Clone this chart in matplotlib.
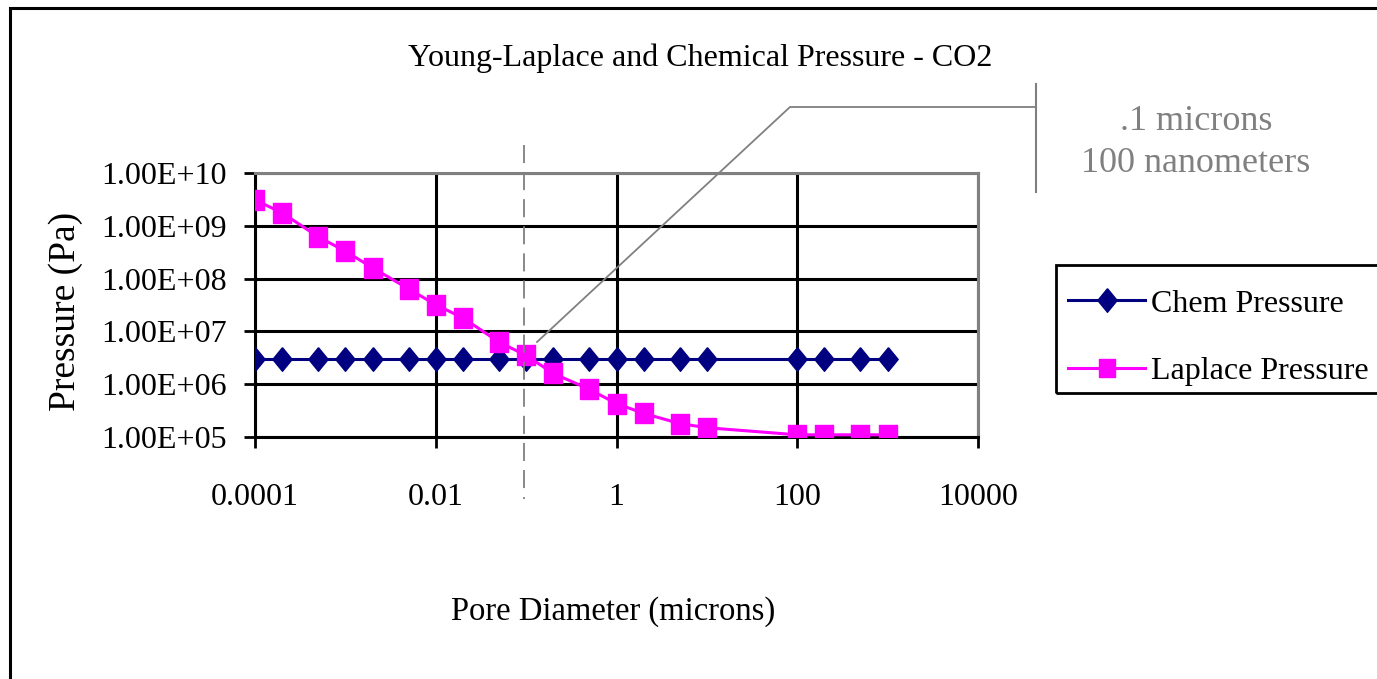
import matplotlib
matplotlib.use("Agg")
import matplotlib.pyplot as plt
from matplotlib.patches import Rectangle
from matplotlib.lines import Line2D
import numpy as np

# ---- data ----
diameter_um = [0.0001, 0.0002, 0.0005, 0.001, 0.002, 0.005, 0.01, 0.02, 0.05, 0.1,
               0.2, 0.5, 1, 2, 5, 10, 100, 200, 500, 1000]
chem_pressure = [3.0e6] * 20
laplace_pressure = [3.1e9, 1.75e9, 6.2e8, 3.3e8, 1.6e8, 6.4e7, 3.2e7, 1.8e7, 6.3e6, 3.5e6,
                    1.6e6, 8.0e5, 4.3e5, 2.8e5, 1.8e5, 1.5e5, 1.1e5, 1.1e5, 1.1e5, 1.1e5]
x_ticks = [1e-4, 1e-2, 1, 1e2, 1e4]
x_ticklabels = ["0.0001", "0.01", "1", "100", "10000"]
y_ticks = [1e5, 1e6, 1e7, 1e8, 1e9, 1e10]
y_ticklabels = ["1.00E+05", "1.00E+06", "1.00E+07", "1.00E+08", "1.00E+09", "1.00E+10"]

title = "Young-Laplace and Chemical Pressure - CO2"
xlabel = "Pore Diameter (microns)"
ylabel = "Pressure (Pa)"
series_names = ["Chem Pressure", "Laplace Pressure"]
annot_lines = [".1 microns", "100 nanometers"]

plt.rcParams['font.family'] = ['Liberation Serif', 'DejaVu Serif']

W, H = 1377, 679
fig = plt.figure(figsize=(W / 100, H / 100), dpi=100)

def fx(px):
    return px / W

def fy(py):
    return 1 - py / H

ax = fig.add_axes([fx(255), fy(437), fx(978) - fx(255), fy(173) - fy(437)])
ax.set_xscale('log')
ax.set_yscale('log')
ax.set_xlim(1e-4, 1e4)
ax.set_ylim(1e5, 1e10)

diamond = [(0, 1), (0.82, 0), (0, -1), (-0.82, 0), (0, 1)]
square = [(-0.85, -1), (0.85, -1), (0.85, 1), (-0.85, 1), (-0.85, -1)]

navy = '#000080'
magenta = '#FF00FF'
gray = '#808080'

ax.plot(diameter_um, chem_pressure, color=navy, lw=2.2, marker=diamond,
        markersize=17, markerfacecolor=navy, markeredgecolor=navy, label=series_names[0],
        zorder=4)
ax.plot(diameter_um, laplace_pressure, color=magenta, lw=2.2, marker=square,
        markersize=15, markerfacecolor=magenta, markeredgecolor=magenta, label=series_names[1],
        zorder=5)

ax.set_xticks(x_ticks)
ax.set_xticklabels(x_ticklabels)
ax.set_yticks(y_ticks)
ax.set_yticklabels(y_ticklabels)
ax.minorticks_off()
ax.tick_params(axis='both', which='major', direction='out', length=8, width=2,
               color='black', labelsize=23)
ax.tick_params(axis='x', pad=25)
ax.tick_params(axis='y', pad=12)

ax.grid(True, which='major', color='black', lw=2.2)
ax.set_axisbelow(True)
for s in ['left', 'bottom']:
    ax.spines[s].set_color('black')
    ax.spines[s].set_linewidth(2.2)
for s in ['top', 'right']:
    ax.spines[s].set_color(gray)
    ax.spines[s].set_linewidth(2.2)

fig.text(fx(700), fy(58), title, ha='center', va='center', fontsize=23)
fig.text(fx(613), fy(612), xlabel, ha='center', va='center', fontsize=23.5)
fig.text(fx(66), fy(311), ylabel, ha='center', va='center', fontsize=27, rotation=90)

# legend (frame drawn separately)
handles = [Line2D([], [], color=navy, lw=2.2, marker=diamond, markersize=17,
                  markerfacecolor=navy, markeredgecolor=navy),
           Line2D([], [], color=magenta, lw=2.2, marker=square, markersize=13,
                  markerfacecolor=magenta, markeredgecolor=magenta)]
leg = fig.legend(handles, series_names, loc='upper left',
                 bbox_to_anchor=(fx(1049), fy(270)), borderaxespad=0,
                 fontsize=23, frameon=False,
                 handlelength=2.4, handletextpad=0.2, labelspacing=1.2,
                 borderpad=0.6)
fig.add_artist(Rectangle((fx(1056), fy(393)), 0.5, fy(265) - fy(393),
                         transform=fig.transFigure, fill=False, edgecolor='black',
                         lw=2, clip_on=False))

# annotation shapes
fig.add_artist(Line2D([fx(523.7), fx(523.7)], [fy(145), fy(499)], color=gray, lw=1.3,
                      linestyle=(0, (10, 5)), zorder=6))
fig.add_artist(Line2D([fx(537), fx(790), fx(1036)], [fy(342), fy(107), fy(107)],
                      color=gray, lw=1.3, zorder=6))
fig.add_artist(Line2D([fx(1036), fx(1036)], [fy(84), fy(192)], color=gray, lw=1.5, zorder=6))
fig.text(fx(1196), fy(121), annot_lines[0], ha='center', va='center', fontsize=26, color=gray)
fig.text(fx(1196), fy(164), annot_lines[1], ha='center', va='center', fontsize=26, color=gray)

# outer frame
fig.add_artist(Rectangle((fx(10), -0.05), 1.1, fy(8) + 0.05, transform=fig.transFigure,
                         fill=False, edgecolor='black', lw=2.2, clip_on=False))

fig.savefig("out.png", dpi=100)
